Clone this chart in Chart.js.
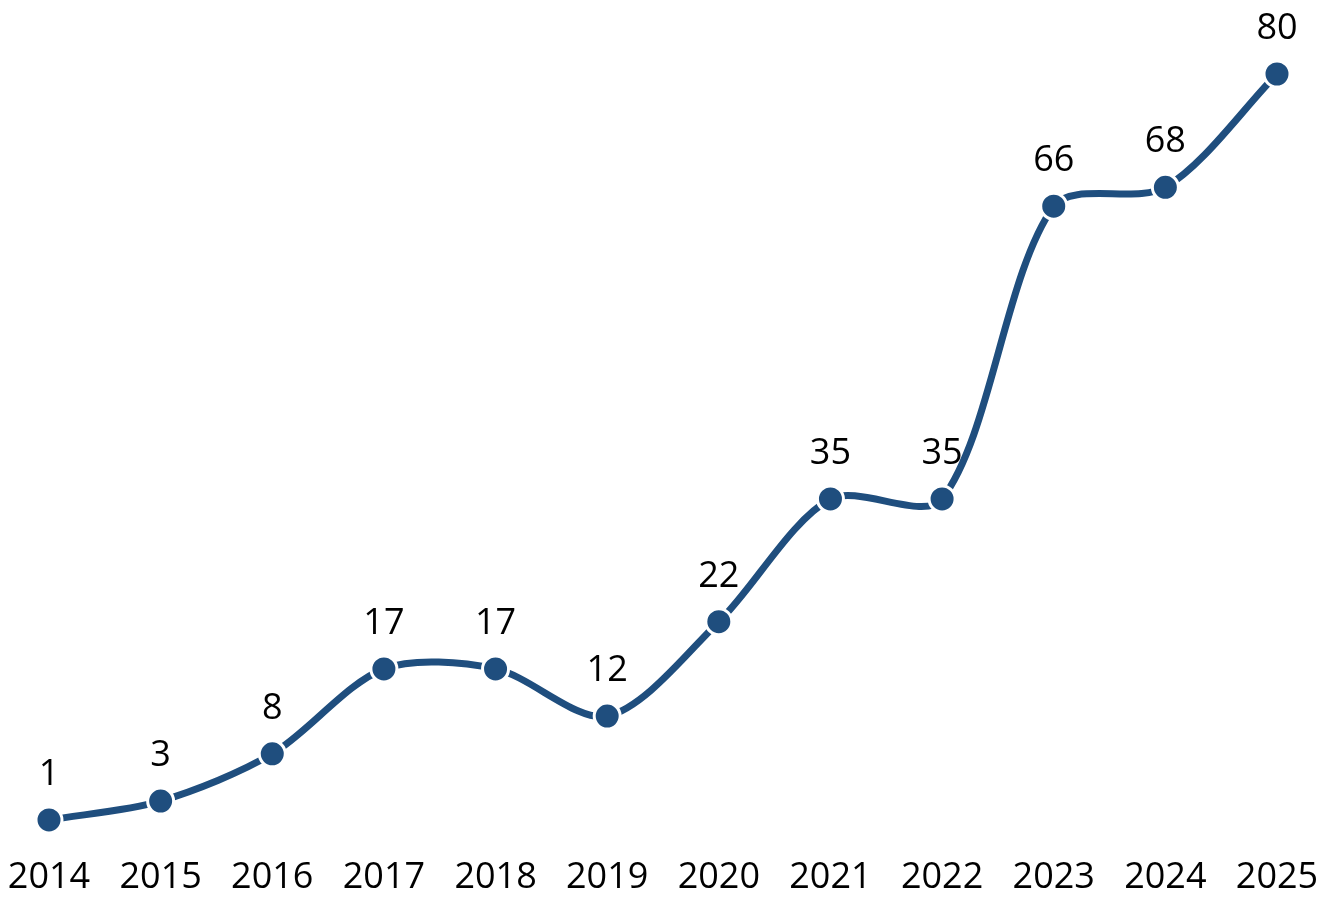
<!DOCTYPE html>
<html>
<head>
<meta charset="utf-8">
<script src="https://cdn.jsdelivr.net/npm/chart.js@4"></script>
<style>
  html,body{margin:0;padding:0;background:#fff;}
  #wrap{width:1320px;height:900px;position:relative;}
</style>
</head>
<body>
<div id="wrap"><canvas id="c" width="1320" height="900"></canvas></div>
<script>
const years = ['2014','2015','2016','2017','2018','2019','2020','2021','2022','2023','2024','2025'];
const counts = [1,3,8,17,17,12,22,35,35,66,68,80];

const lineColor = '#1f4e7e';
const fontFam = '"Open Sans", "Noto Sans", sans-serif';

// value labels above each point
const valueLabels = {
  id:'valueLabels',
  afterDatasetsDraw(chart){
    const ctx = chart.ctx;
    const meta = chart.getDatasetMeta(0);
    ctx.save();
    ctx.font = '36px ' + fontFam;
    ctx.fillStyle = '#000';
    ctx.textAlign = 'center';
    ctx.textBaseline = 'alphabetic';
    meta.data.forEach((pt,i)=>{
      ctx.fillText(String(counts[i]), pt.x, pt.y - 35);
    });
    ctx.restore();
  }
};

new Chart(document.getElementById('c'), {
  type:'line',
  data:{ labels: years, datasets:[{
    data: counts,
    borderColor: lineColor,
    borderWidth: 7,
    tension: 0.3,
    pointRadius: 13,
    pointBackgroundColor: lineColor,
    pointBorderColor: '#fff',
    pointBorderWidth: 3,
    clip: false,
    fill: false
  }]},
  options:{
    responsive:false,
    animation:false,
    events:[],
    layout:{ autoPadding:false, padding:{ left:49, right:43, top:74, bottom:0 } },
    plugins:{ legend:{display:false}, tooltip:{enabled:false} },
    scales:{
      x:{
        offset:false,
        grid:{display:false, drawTicks:false},
        border:{display:false},
        ticks:{ color:'#000', padding:27, maxRotation:0, autoSkip:false, font:{ family:fontFam, size:36 } },
        afterFit(s){ s.paddingLeft = 0; s.paddingRight = 0; s.height = 70.6; }
      },
      y:{
        display:false,
        min:0, max:80
      }
    }
  },
  plugins:[valueLabels]
});
</script>
</body>
</html>
